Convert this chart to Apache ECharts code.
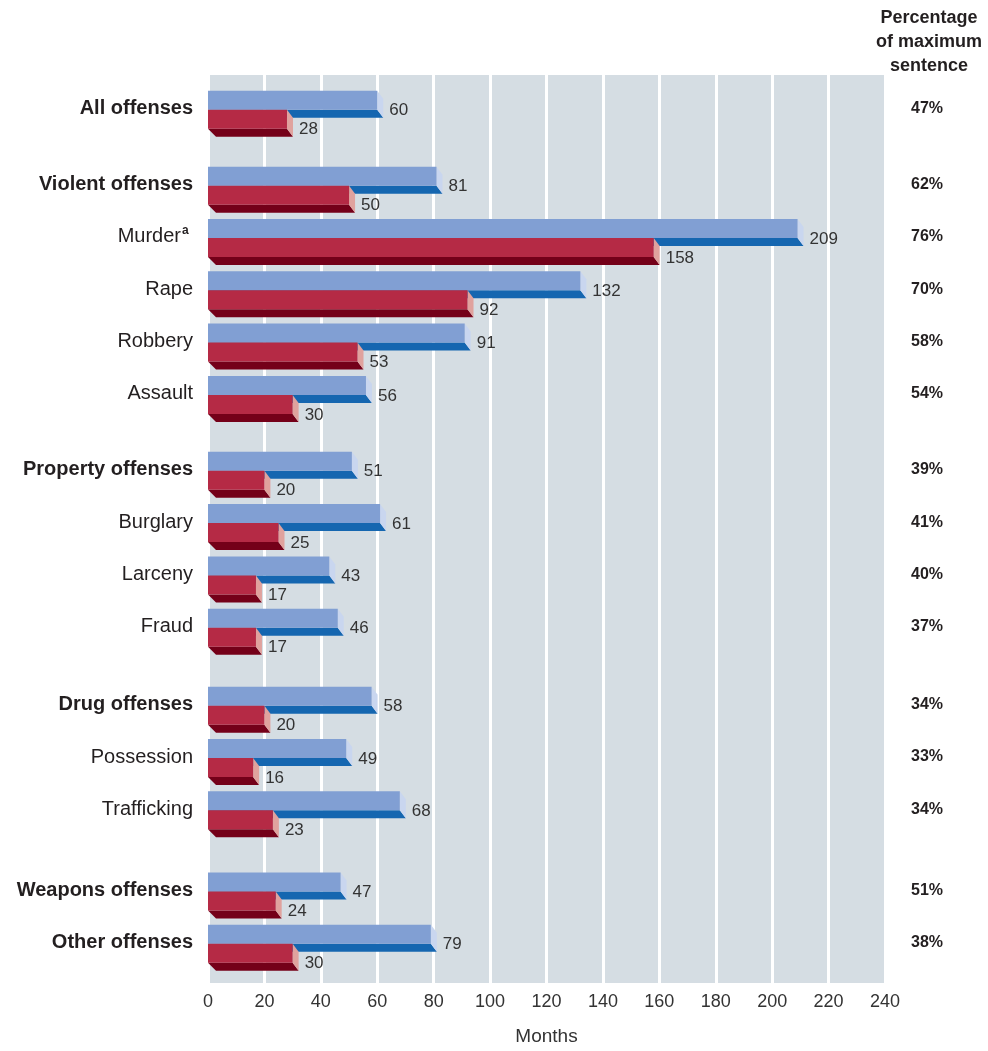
<!DOCTYPE html>
<html>
<head>
<meta charset="utf-8">
<script src="https://cdn.jsdelivr.net/npm/echarts@6/dist/echarts.min.js"></script>
<style>
html,body{margin:0;padding:0;background:#fff;}
#chart{width:988px;height:1051px;}
</style>
</head>
<body>
<div id="chart"></div>
<script>
// ---- data ----
const categories = ['All offenses','Violent offenses','Murder','Rape','Robbery','Assault','Property offenses','Burglary','Larceny','Fraud','Drug offenses','Possession','Trafficking','Weapons offenses','Other offenses'];
const isGroupTotal = [true,true,false,false,false,false,true,false,false,false,true,false,false,true,true];
const footnoteMark = ['','','a','','','','','','','','','','','',''];
const maxSentence = [60,81,209,132,91,56,51,61,43,46,58,49,68,47,79];
const timeServed = [28,50,158,92,53,30,20,25,17,17,20,16,23,24,30];
const pctOfMax = ['47%','62%','76%','70%','58%','54%','39%','41%','40%','37%','34%','33%','34%','51%','38%'];
const xTicks = [0,20,40,60,80,100,120,140,160,180,200,220,240];

// ---- layout (extra spacing before section rows, in row units) ----
const gapBefore = {1:0.45, 6:0.45, 10:0.49, 13:0.55};
const rowPos = [];
let acc = 0;
categories.forEach((c,i)=>{ acc += (gapBefore[i]||0); rowPos.push(i+acc); });

const FONT = "'Liberation Sans', Arial, Helvetica, sans-serif";
const FACE_H = 19, DX = 6, DY = 8, DXL = 8;

function barRender(kind){
  return function(params, api){
    const i = params.dataIndex;
    const v = api.value(0);
    const y = api.value(1);
    const p0 = api.coord([0, y]);
    const p1 = api.coord([v, y]);
    const x0 = p0[0], x1 = p1[0], b = p0[1];
    let top, bot, face, dark, side;
    if (kind === 'blue'){
      top = b - FACE_H; bot = b;
      face = '#819fd3'; dark = '#1566b0'; side = '#c9d6ef';
    } else {
      top = b; bot = b + FACE_H;
      face = '#b52a45'; dark = '#740019'; side = '#e0a29e';
    }
    const children = [
      {type:'polygon', shape:{points:[[x0,bot],[x1,bot],[x1+DX,bot+DY],[x0+DXL,bot+DY]]}, style:{fill:dark}},
      {type:'polygon', shape:{points:[[x1,top],[x1+DX,top+DY],[x1+DX,bot+DY],[x1,bot]]}, style:{fill:side}},
      {type:'rect', shape:{x:x0, y:top, width:x1-x0, height:bot-top}, style:{fill:face}},
      {type:'text', style:{text:String(v), x:x1+DX+6, y:bot+1, align:'left', verticalAlign:'middle', fill:'#333', font:'17px ' + FONT}}
    ];
    if (kind === 'blue'){
      const lx = x0 - 15;
      const bold = isGroupTotal[i];
      const ly = b - 1;
      if (footnoteMark[i]){
        children.push({type:'text', style:{text:categories[i], x:lx-12, y:ly, align:'right', verticalAlign:'middle', fill:'#231f20', font:(bold?'bold ':'')+'20px '+FONT}});
        children.push({type:'text', style:{text:footnoteMark[i], x:lx-11, y:ly-6, align:'left', verticalAlign:'middle', fill:'#231f20', font:'bold 12px '+FONT}});
      } else {
        children.push({type:'text', style:{text:categories[i], x:lx, y:ly, align:'right', verticalAlign:'middle', fill:'#231f20', font:(bold?'bold ':'')+'20px '+FONT}});
      }
      children.push({type:'text', style:{text:pctOfMax[i], x:927, y:ly, align:'center', verticalAlign:'middle', fill:'#231f20', font:'bold 16px '+FONT}});
    }
    return {type:'group', children};
  };
}

const chart = echarts.init(document.getElementById('chart'), null, {renderer:'canvas'});
chart.setOption({
  animation:false,
  backgroundColor:'#ffffff',
  graphic:[
    {type:'text', style:{text:'Percentage\nof maximum\nsentence', x:929, y:6, align:'center', verticalAlign:'top', lineHeight:24, fill:'#231f20', font:'bold 18px '+FONT}}
  ],
  grid:{left:208, right:103, top:75, bottom:63, show:true, backgroundColor:'#d5dde3', borderWidth:0, containLabel:false},
  xAxis:{
    type:'value', min:xTicks[0], max:xTicks[xTicks.length-1], interval:xTicks[1]-xTicks[0],
    axisLine:{show:false}, axisTick:{show:false},
    axisLabel:{color:'#333', fontSize:18, fontFamily:FONT, margin:10},
    splitLine:{show:true, lineStyle:{color:'#ffffff', width:3}},
    name:'Months', nameLocation:'middle', nameGap:44,
    nameTextStyle:{color:'#333', fontSize:19, fontFamily:FONT}
  },
  yAxis:{type:'value', inverse:true, min:-0.665, max:16.69, show:false, splitLine:{show:false}},
  series:[
    {type:'custom', renderItem:barRender('blue'), encode:{x:0,y:1}, clip:false,
     data:maxSentence.map((v,i)=>[v,rowPos[i]])},
    {type:'custom', renderItem:barRender('red'), encode:{x:0,y:1}, clip:false,
     data:timeServed.map((v,i)=>[v,rowPos[i]])}
  ]
});
</script>
</body>
</html>
